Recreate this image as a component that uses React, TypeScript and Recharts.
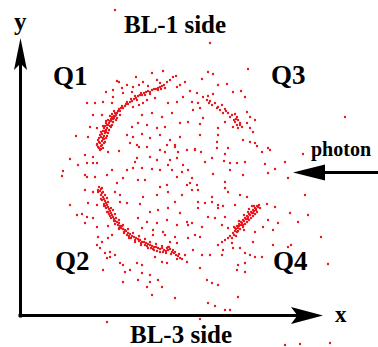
import { ScatterChart, Scatter, XAxis, YAxis, ReferenceLine, Customized } from 'recharts';

// hit positions, units = picture px measured from the corner of the x/y axes (y up)
const arcQ1: [number, number][] = [
  [79, 168], [81, 170], [80, 173], [82, 175], [78, 176], [83, 177], [81, 179], [84, 180], [82, 182], [85, 183],
  [83, 185], [86, 186], [84, 188], [87, 188], [85, 190], [88, 191], [86, 193], [89, 193], [90, 195], [88, 196],
  [91, 197], [92, 199], [93, 197], [94, 200], [96, 201], [95, 203], [97, 203], [98, 205], [100, 205], [99, 207],
  [101, 208], [103, 208], [102, 210], [105, 210], [106, 212], [108, 212], [107, 214], [110, 214], [112, 215], [111, 217],
  [114, 217], [116, 218], [115, 220], [118, 220], [120, 221], [122, 221], [121, 223], [124, 223], [126, 224], [128, 225],
  [130, 224], [132, 226], [134, 227], [136, 227], [138, 228], [140, 229], [142, 230], [144, 231], [138, 226], [141, 227],
  [145, 228], [130, 222], [125, 221], [80, 166], [84, 173], [86, 178], [89, 186], [91, 189], [93, 194], [97, 198], [77, 171],
];

// thicker lower part of the Q1 band
const arcQ1Dense: [number, number][] = [
  [83, 168], [77, 172], [85, 174], [79, 178], [87, 180], [81, 184], [89, 186], [83, 190], [92, 191], [86, 195],
  [96, 196], [90, 200], [100, 201], [94, 205], [81, 167], [79, 174], [83, 178], [85, 185], [87, 191], [91, 195],
  [95, 200], [82, 171], [84, 177], [88, 183], [90, 190], [78, 169], [80, 181], [86, 184], [94, 198], [92, 202],
];

const clusterQ3: [number, number][] = [
  [187, 216], [189, 213], [192, 211], [195, 213], [198, 209], [202, 211], [197, 208], [200, 206], [205, 207], [203, 203],
  [208, 203], [212, 201], [215, 202], [210, 199], [217, 199], [218, 196], [215, 194], [220, 193], [217, 191], [222, 189],
  [213, 189], [218, 188], [190, 215], [206, 205], [216, 197], [220, 191], [214, 196],
];

const arcQ2: [number, number][] = [
  [79, 129], [81, 127], [80, 125], [82, 123], [81, 121], [83, 119], [84, 117], [82, 116], [85, 115], [86, 113],
  [84, 112], [87, 111], [88, 109], [86, 108], [89, 107], [90, 105], [88, 104], [91, 103], [92, 101], [90, 100],
  [93, 99], [94, 97], [96, 98], [95, 95], [97, 94], [99, 93], [98, 91], [100, 90], [102, 90], [101, 88],
  [103, 87], [105, 86], [104, 84], [106, 85], [108, 83], [107, 81], [110, 82], [112, 80], [111, 78], [114, 79],
  [116, 78], [115, 76], [118, 77], [120, 76], [122, 74], [121, 73], [124, 74], [126, 73], [128, 72], [127, 70],
  [130, 71], [132, 70], [134, 69], [133, 67], [136, 69], [138, 68], [140, 67], [142, 68], [144, 66], [146, 65],
  [148, 66], [150, 67], [152, 64], [151, 62], [154, 63], [156, 61], [158, 60], [160, 58], [149, 69], [153, 66],
  [155, 64], [83, 124], [85, 110], [89, 102], [94, 95], [99, 88], [109, 80], [119, 75], [131, 68], [143, 64],
  [147, 68], [157, 57], [78, 126], [87, 118], [93, 106], [162, 57], [159, 62], [137, 65], [125, 71],
];

// both edges of the Q2 band
const arcQ2Dense: [number, number][] = [
  [82, 128], [85, 121], [88, 114], [91, 108], [95, 102], [99, 96], [103, 91], [108, 87], [113, 83], [119, 80],
  [125, 77], [130, 74], [136, 72], [142, 70], [148, 69], [78, 124], [81, 117], [84, 110], [87, 104], [91, 98],
  [95, 92], [99, 87], [104, 83], [109, 78], [115, 74], [121, 71], [128, 68], [134, 66], [140, 64], [146, 63],
];

const arcQ4: [number, number][] = [
  [213, 83], [215, 85], [214, 81], [216, 87], [218, 88], [217, 84], [219, 90], [220, 87], [221, 91], [222, 93],
  [223, 89], [224, 95], [225, 92], [226, 97], [227, 94], [228, 99], [229, 96], [230, 101], [231, 98], [232, 103],
  [233, 100], [234, 105], [235, 102], [236, 107], [237, 104], [238, 109], [239, 111], [237, 110], [235, 108], [233, 106],
  [231, 104], [229, 102], [227, 100], [225, 98], [223, 96], [221, 94], [219, 92], [217, 90], [215, 88], [210, 80],
  [212, 78], [208, 78], [216, 80], [228, 104], [234, 110], [240, 108], [224, 86],
  [218, 85], [214, 89], [223, 91], [219, 95], [228, 97], [224, 101], [233, 103], [229, 107], [236, 106], [232, 110],
];

const background: [number, number][] = [
  [95, 306], [132, 243], [143, 245], [153, 239], [165, 234], [97, 235], [107, 231], [116, 239], [123, 234], [86, 224],
  [93, 226], [102, 228], [113, 229], [128, 230], [137, 236], [147, 234], [157, 229], [156, 240], [99, 234], [119, 231],
  [140, 233], [150, 236], [160, 231], [93, 219], [103, 223], [112, 224], [135, 218], [127, 216], [123, 213], [117, 216],
  [67, 213], [75, 213], [83, 214], [92, 213], [113, 209], [119, 211], [148, 213], [157, 214], [163, 219], [73, 201],
  [82, 201], [122, 201], [132, 203], [142, 199], [152, 203], [70, 189], [77, 188], [112, 189], [118, 193], [127, 191],
  [137, 188], [145, 189], [160, 193], [68, 179], [107, 181], [113, 179], [122, 182], [130, 178], [140, 181], [150, 176],
  [160, 179], [110, 173], [117, 171], [127, 169], [147, 171], [155, 171], [56, 180], [50, 157], [58, 151], [67, 153],
  [77, 153], [43, 145], [188, 244], [193, 242], [228, 247], [170, 225], [182, 237], [198, 231], [207, 232], [221, 225],
  [213, 224], [177, 223], [183, 219], [188, 220], [193, 222], [225, 219], [172, 214], [178, 213], [173, 206], [180, 208],
  [227, 204], [230, 199], [235, 196], [227, 193], [168, 194], [180, 192], [183, 198], [205, 194], [198, 188], [230, 188],
  [233, 184], [180, 181], [198, 181], [223, 176], [230, 174], [235, 173], [248, 168], [197, 174], [208, 168], [175, 167],
  [325, 199], [190, 273], [65, 161], [73, 159], [88, 164], [99, 165], [119, 169], [140, 166], [145, 164], [155, 169],
  [158, 164], [167, 166], [117, 158], [130, 159], [137, 156], [150, 156], [157, 158], [73, 153], [115, 154], [148, 151],
  [163, 151], [92, 146], [107, 146], [113, 148], [122, 148], [132, 147], [140, 146], [152, 146], [162, 144], [168, 146],
  [67, 139], [75, 139], [87, 141], [103, 138], [118, 136], [125, 136], [157, 139], [97, 133], [140, 129], [147, 131],
  [167, 131], [65, 126], [73, 124], [95, 124], [100, 121], [123, 119], [137, 121], [148, 124], [155, 114], [162, 121],
  [68, 113], [77, 111], [100, 114], [107, 113], [120, 112], [130, 104], [138, 106], [148, 108], [160, 103], [67, 99],
  [73, 98], [118, 98], [127, 94], [137, 93], [147, 96], [157, 91], [167, 94], [65, 93], [77, 89], [88, 90],
  [122, 88], [133, 86], [143, 84], [175, 166], [181, 164], [197, 168], [237, 170], [242, 164], [250, 166], [205, 162],
  [185, 154], [192, 158], [204, 155], [210, 153], [217, 153], [225, 154], [245, 152], [265, 154], [193, 142], [210, 146],
  [223, 141], [255, 147], [248, 143], [268, 138], [172, 138], [170, 133], [177, 131], [172, 126], [178, 126], [205, 134],
  [205, 128], [208, 124], [220, 121], [227, 119], [192, 119], [178, 114], [185, 113], [192, 114], [198, 111], [203, 110],
  [215, 111], [178, 108], [198, 108], [247, 112], [255, 109], [270, 103], [188, 99], [195, 98], [205, 99], [248, 96],
  [258, 93], [278, 94], [168, 91], [172, 93], [182, 89], [202, 91], [208, 88], [243, 89], [253, 86], [235, 84],
  [78, 79], [82, 74], [88, 78], [92, 81], [77, 71], [80, 68], [85, 63], [90, 59], [95, 61], [87, 58],
  [100, 53], [103, 51], [83, 46], [105, 44], [110, 46], [117, 53], [122, 51], [135, 59], [142, 54], [147, 53],
  [133, 81], [145, 81], [155, 79], [150, 74], [157, 73], [122, 43], [130, 41], [103, 34], [118, 36], [130, 34],
  [138, 36], [142, 29], [127, 29], [132, 21], [155, 18], [42, 140], [65, 141], [50, 111], [57, 101], [62, 102],
  [90, 64], [87, -6], [180, -3], [175, 81], [180, 79], [168, 78], [165, 61], [167, 54], [173, 66], [182, 61],
  [190, 61], [198, 71], [202, 74], [205, 76], [212, 73], [213, 68], [203, 66], [202, 61], [220, 68], [225, 63],
  [230, 61], [235, 59], [242, 59], [233, 74], [253, 71], [268, 69], [218, 51], [225, 53], [217, 46], [225, 44],
  [180, 48], [187, 36], [192, 33], [198, 31], [218, 19], [188, 13], [195, 10], [205, 6], [210, 6], [285, 121],
  [288, 101], [301, 79], [308, 52], [271, 71], [265, -29], [280, -28], [310, -27], [283, 162],
];

const seriesList = [background, arcQ1, arcQ1Dense, clusterQ3, arcQ2, arcQ2Dense, arcQ4];

const RED = '#e8161c';
const FONT = '"Liberation Serif", "Times New Roman", serif';

const toPts = (arr: [number, number][]) => arr.map(([x, y]) => ({ x, y }));

const Dot = (p: any) => <circle cx={p.cx} cy={p.cy} r={1.2} fill={RED} />;

// line with a stealth arrowhead (notch < 1) or a plain triangle (notch = 1)
const arrowShape = (len: number, half: number, notch: number) => (p: any) => {
  const { x1, y1, x2, y2 } = p;
  const dx = x2 - x1;
  const dy = y2 - y1;
  const d = Math.sqrt(dx * dx + dy * dy) || 1;
  const ux = dx / d;
  const uy = dy / d;
  const nx = -uy;
  const ny = ux;
  const bx = x2 - ux * len;
  const by = y2 - uy * len;
  const ix = x2 - ux * len * notch;
  const iy = y2 - uy * len * notch;
  const head = `M${x2},${y2} L${bx + nx * half},${by + ny * half} L${ix},${iy} L${bx - nx * half},${by - ny * half} Z`;
  return (
    <g>
      <line x1={x1} y1={y1} x2={ix + ux} y2={iy + uy} stroke="#000" strokeWidth={3} />
      <path d={head} fill="#000" />
    </g>
  );
};

const labels = [
  { t: 'y', x: 14, y: 30, s: 25 },
  { t: 'BL-1 side', x: 124, y: 33, s: 25 },
  { t: 'Q1', x: 53, y: 85, s: 27 },
  { t: 'Q3', x: 271, y: 84, s: 27 },
  { t: 'photon', x: 311, y: 156, s: 20 },
  { t: 'Q2', x: 55, y: 270, s: 27 },
  { t: 'Q4', x: 273, y: 270, s: 27 },
  { t: 'x', x: 335, y: 322, s: 23 },
  { t: 'BL-3 side', x: 130, y: 343, s: 25 },
];

const Labels = () => (
  <g>
    {labels.map((l) => (
      <text key={l.t} x={l.x} y={l.y} fontFamily={FONT} fontWeight="bold" fontSize={l.s} fill="#000">
        {l.t}
      </text>
    ))}
  </g>
);

export default function App() {
  return (
    <div style={{ position: 'absolute', left: 0, top: 0, width: 378, height: 347, background: '#fff' }}>
      <ScatterChart width={378} height={347} margin={{ top: 0, right: 0, bottom: 0, left: 0 }}>
        <XAxis type="number" dataKey="x" domain={[-20, 358]} allowDataOverflow hide />
        <YAxis type="number" dataKey="y" domain={[-31, 316]} allowDataOverflow hide />
        {seriesList.map((s, i) => (
          <Scatter key={i} data={toPts(s)} fill={RED} shape={Dot} isAnimationActive={false} />
        ))}
        <ReferenceLine segment={[{ x: 0.5, y: -1.5 }, { x: 0.5, y: 278 }]} shape={arrowShape(32, 6.5, 0.8)} />
        <ReferenceLine segment={[{ x: -1.5, y: 0.5 }, { x: 303, y: 0.5 }]} shape={arrowShape(32, 8.5, 0.8)} />
        <ReferenceLine segment={[{ x: 358, y: 143.5 }, { x: 273, y: 143.5 }]} shape={arrowShape(32, 8, 1)} />
        <Customized component={Labels} />
      </ScatterChart>
    </div>
  );
}
